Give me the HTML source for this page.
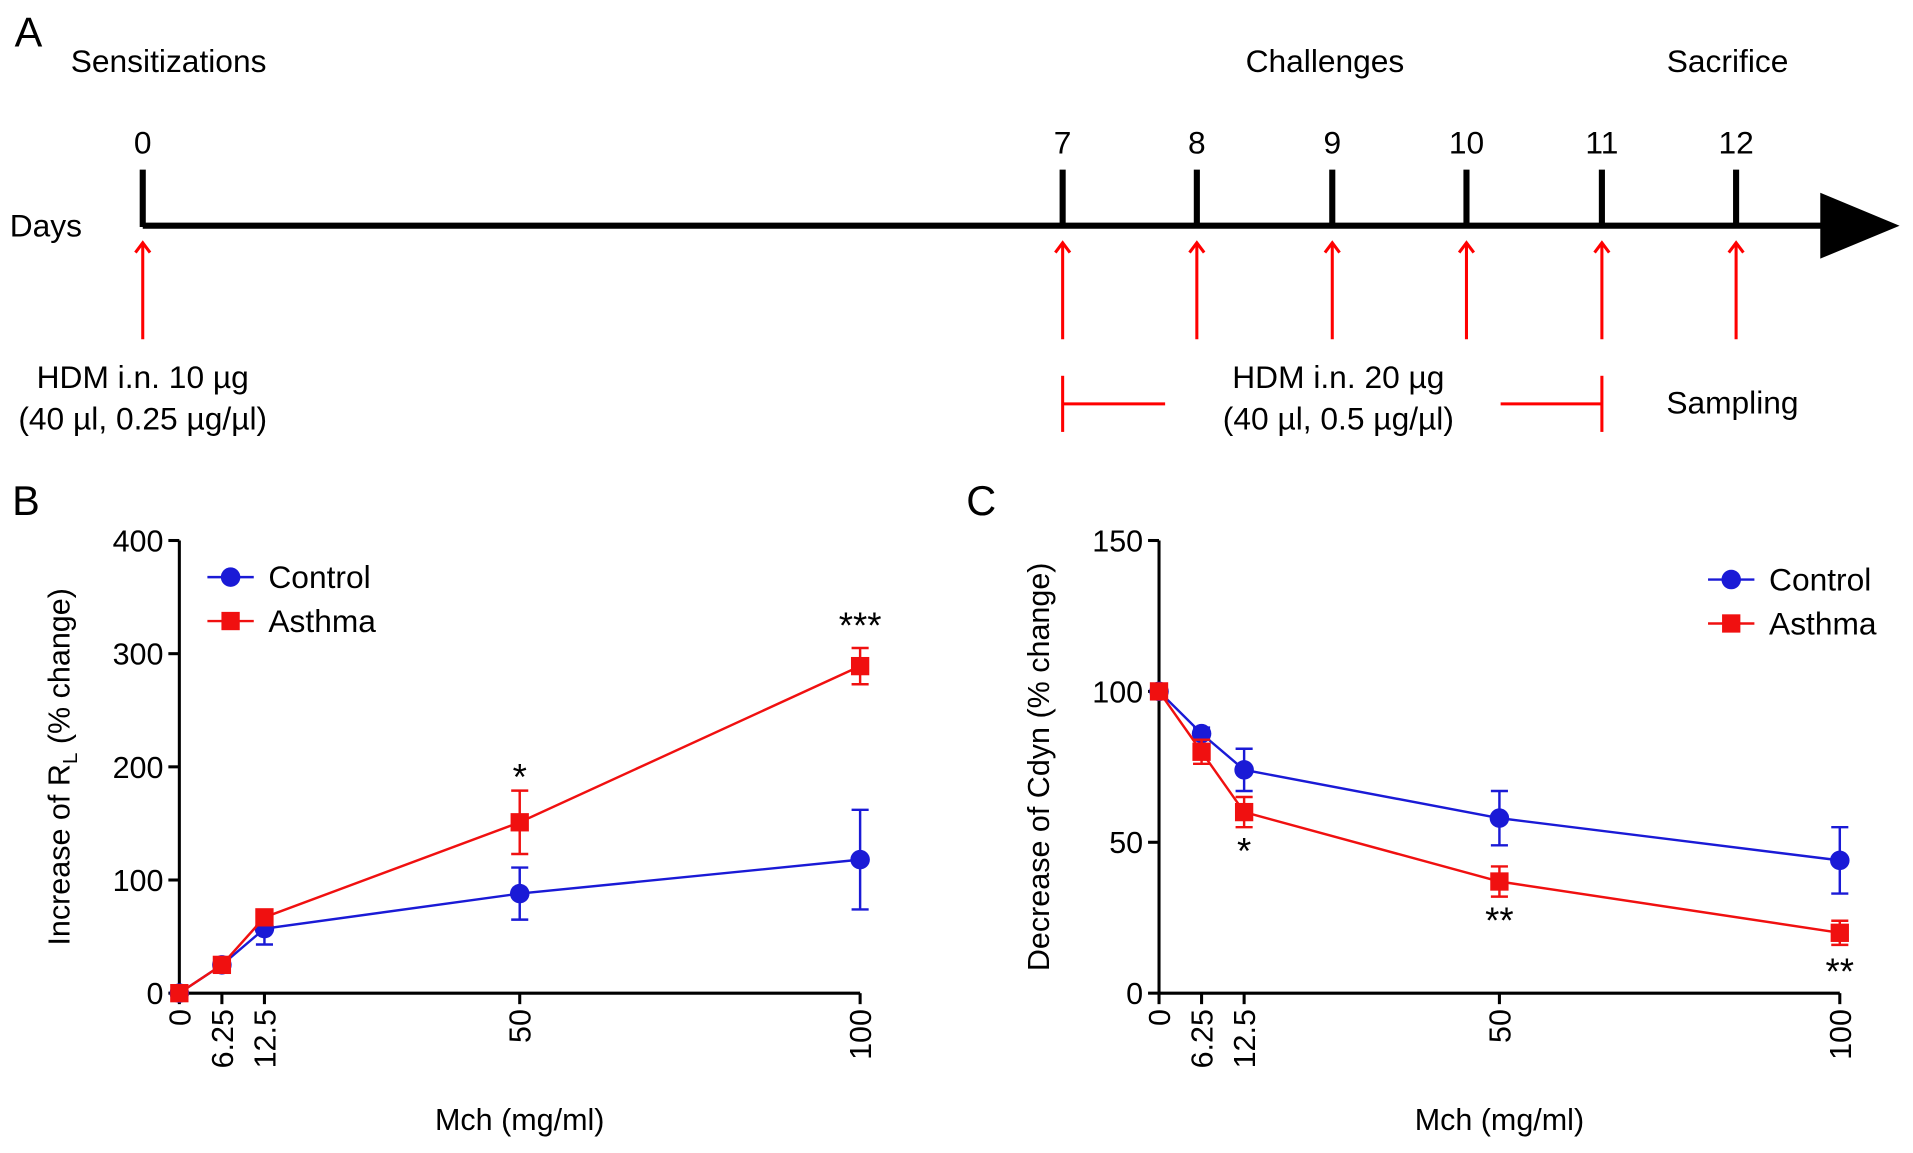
<!DOCTYPE html>
<html><head><meta charset="utf-8"><style>
html,body{margin:0;padding:0;background:#fff}
svg{display:block;font-family:"Liberation Sans",Arial,sans-serif}
</style></head><body>
<svg id="fig" width="1913" height="1153" viewBox="0 0 1568 945" preserveAspectRatio="none">
<g font-size="26" fill="#000">
<text x="12" y="38" font-size="34">A</text>
<text x="58" y="59">Sensitizations</text>
<text x="1086" y="59" text-anchor="middle">Challenges</text>
<text x="1416" y="59" text-anchor="middle">Sacrifice</text>
<text x="8" y="194">Days</text>
<line x1="117" y1="185" x2="1500" y2="185" stroke="#000" stroke-width="5"/>
<polygon points="1492,158 1557,185 1492,212" fill="#000"/>
<g id="days"></g>
<text x="117" y="318" text-anchor="middle">HDM i.n. 10 µg</text>
<text x="117" y="352" text-anchor="middle">(40 µl, 0.25 µg/µl)</text>
<text x="1097" y="318" text-anchor="middle">HDM i.n. 20 µg</text>
<text x="1097" y="352" text-anchor="middle">(40 µl, 0.5 µg/µl)</text>
<text x="1420" y="339" text-anchor="middle">Sampling</text>
<g stroke="#f00" stroke-width="2.5">
<line x1="871" y1="308" x2="871" y2="354"/><line x1="1313" y1="308" x2="1313" y2="354"/>
<line x1="871" y1="331" x2="955" y2="331"/><line x1="1230" y1="331" x2="1313" y2="331"/>
</g>
</g>
<g id="chartB"></g>
<g id="chartC"></g>
</svg>
<script>
const dayLabels=[0,7,8,9,10,11,12];
const dayX=[117,871,981,1092,1202,1313,1423];
const doses=[0,6.25,12.5,50,100];
const doseLabels=["0","6.25","12.5","50","100"];
const bControl=[0,25,57,88,118];
const bControlErr=[0,5,14,23,44];
const bAsthma=[0,25,67,151,289];
const bAsthmaErr=[0,5,6,28,16];
const bTicks=[0,100,200,300,400];
const cControl=[100,86,74,58,44];
const cControlErr=[0,2,7,9,11];
const cAsthma=[100,80,60,37,20];
const cAsthmaErr=[0,4,5,5,4];
const cTicks=[0,50,100,150];
const NS="http://www.w3.org/2000/svg";
function mk(p,t,a,txt){const e=document.createElementNS(NS,t);for(const k in a)e.setAttribute(k,a[k]);if(txt!==undefined)e.textContent=txt;p.appendChild(e);return e;}
const dg=document.getElementById('days');
dayLabels.forEach((d,i)=>{const x=dayX[i];
 const t=mk(dg,'line',{x1:x,y1:139,x2:x,y2:186,stroke:'#000','stroke-width':5});
 
 
 const l=mk(dg,'text',{x:x,y:126,'text-anchor':'middle','font-size':26},String(d));
 
 
 const a=mk(dg,'g',{stroke:'#f00','stroke-width':2.5,fill:'none'});
 
 
 mk(a,'line',{x1:x,y1:278,x2:x,y2:199});mk(a,'polyline',{points:`${x-6},${207} ${x},${199} ${x+6},${207}`});
});
function chart(id,o){
 const g=document.getElementById(id);
 const sx=v=>o.x0+(v/100)*(o.x1-o.x0);
 const sy=v=>o.y0-(v/o.ymax)*(o.y0-o.y1);
 const lab=mk(g,'text',{x:o.lx,y:422,'font-size':34},o.label);
 
 
 const ax=mk(g,'g',{stroke:'#000','stroke-width':2.5});
 
 
 mk(ax,'line',{x1:o.x0,y1:o.y1,x2:o.x0,y2:o.y0+1});
 mk(ax,'line',{x1:o.x0,y1:o.y0,x2:o.x1,y2:o.y0});
 o.ticks.forEach(t=>{mk(ax,'line',{x1:o.x0-9,y1:sy(t),x2:o.x0,y2:sy(t)});
  const tl=mk(g,'text',{x:o.x0-13,y:sy(t)+9,'text-anchor':'end','font-size':25},String(t));
  
  });
 doses.forEach((d,i)=>{mk(ax,'line',{x1:sx(d),y1:o.y0,x2:sx(d),y2:o.y0+9});
  const tl=mk(g,'text',{x:0,y:0,'text-anchor':'end','font-size':25,transform:`translate(${sx(d)+9},${o.y0+13}) rotate(-90)`},doseLabels[i]);
  
  });
 const xt=mk(g,'text',{x:(o.x0+o.x1)/2,y:926,'text-anchor':'middle','font-size':25},'Mch (mg/ml)');
 
 
 const yt=mk(g,'text',{x:0,y:0,'text-anchor':'middle','font-size':25,transform:`translate(${o.x0-90},${(o.y0+o.y1)/2}) rotate(-90)`});
 
 
 if(o.name==='b'){yt.innerHTML='Increase of R<tspan font-size="17" dy="6">L</tspan><tspan dy="-6"> (% change)</tspan>';}
 else yt.textContent='Decrease of Cdyn (% change)';
 [[o.ctrl,o.ctrlErr,'#1a1ad6','control'],[o.ast,o.astErr,'#f01010','asthma']].forEach(([v,e,c,n])=>{
  const s=mk(g,'g',{stroke:c,fill:c,'stroke-width':2});
  
  
  mk(s,'polyline',{points:doses.map((d,i)=>sx(d)+','+sy(v[i])).join(' '),fill:'none'});
  doses.forEach((d,i)=>{const x=sx(d),y=sy(v[i]);
   if(e[i]>0){const a=sy(v[i]+e[i]),b=sy(v[i]-e[i]);
    mk(s,'line',{x1:x,y1:a,x2:x,y2:b});mk(s,'line',{x1:x-7,y1:a,x2:x+7,y2:a});mk(s,'line',{x1:x-7,y1:b,x2:x+7,y2:b});}
   const m=n==='control'?mk(s,'circle',{cx:x,cy:y,r:8,stroke:'none'}):mk(s,'rect',{x:x-7.5,y:y-7.5,width:15,height:15,stroke:'none'});
   
   });
 });
 o.stars.forEach(([i,v,txt])=>{const st=mk(g,'text',{x:sx(doses[i]),y:sy(v),'text-anchor':'middle','font-size':30},txt);
  
  });
 [['Control','#1a1ad6',0],['Asthma','#f01010',1]].forEach(([t,c,k])=>{
  const lg=mk(g,'g',{});
  
  
  const y=o.legY+k*36;
  mk(lg,'line',{x1:o.legX,y1:y,x2:o.legX+38,y2:y,stroke:c,'stroke-width':2});
  if(k===0)mk(lg,'circle',{cx:o.legX+19,cy:y,r:8,fill:c});else mk(lg,'rect',{x:o.legX+11.5,y:y-7.5,width:15,height:15,fill:c});
  mk(lg,'text',{x:o.legX+50,y:y+9,'font-size':26},t);
 });
}
chart('chartB',{name:'b',label:'B',lx:10,x0:147,x1:705,y0:814,y1:443,ymax:400,ticks:bTicks,ctrl:bControl,ctrlErr:bControlErr,ast:bAsthma,astErr:bAsthmaErr,stars:[[3,180,'*'],[4,314,'***']],legX:170,legY:473});
chart('chartC',{name:'c',label:'C',lx:792,x0:950,x1:1508,y0:814,y1:443,ymax:150,ticks:cTicks,ctrl:cControl,ctrlErr:cControlErr,ast:cAsthma,astErr:cAsthmaErr,stars:[[2,43,'*'],[3,20,'**'],[4,3,'**']],legX:1400,legY:475});
</script>
</body></html>
